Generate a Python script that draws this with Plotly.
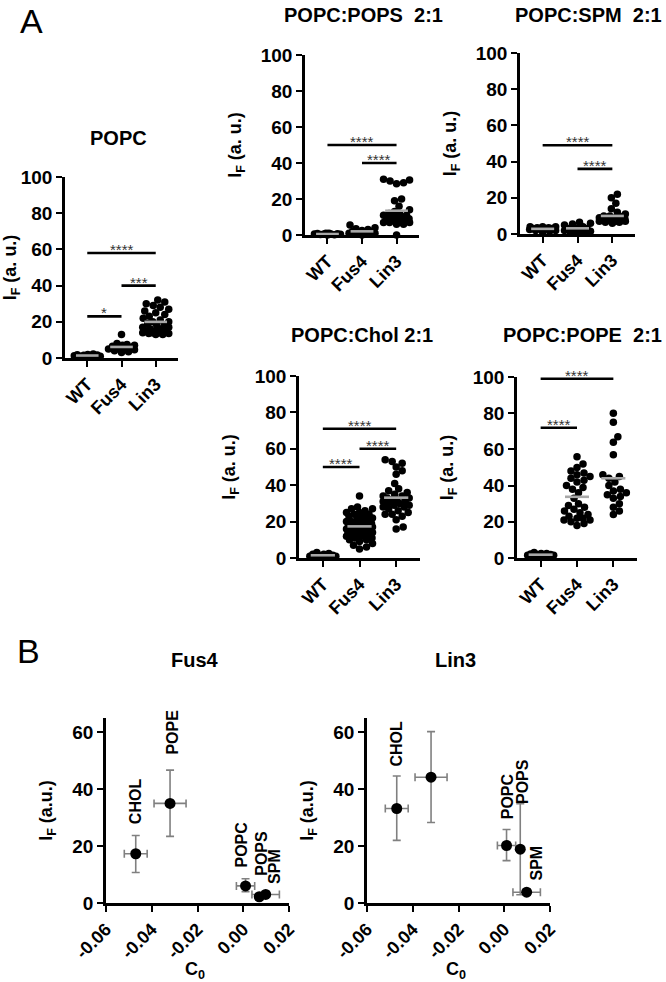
import plotly.graph_objects as go

W, H = 666, 982
FONT = "Liberation Sans, Arial, sans-serif"

groups = ["WT", "Fus4", "Lin3"]

# ---------------- Panel A data (IF, a.u.) ----------------
popc_wt = [0.5, 0.8, 1.0, 1.2, 1.5, 1.6, 1.8, 2.0, 2.2, 1.0, 1.4]
popc_fus4 = [13, 8, 7.5, 7, 7, 6.5, 6, 5.5, 5, 5, 4.5, 4, 3.5, 3]
popc_lin3 = [32, 31, 30, 28, 27, 26, 25, 24, 23, 22, 21, 20, 20, 19, 18, 18, 17, 17,
             16, 16, 15, 15, 15, 14, 14, 14, 13.5, 13.5, 13, 13, 29]
popc_sig = [("WT", "Fus4", 23, "*"), ("Fus4", "Lin3", 40, "***"), ("WT", "Lin3", 58, "****")]

pops_wt = [0, 0.2, 0.5, 0.5, 0.8, 1, 1, 0.3, 0.6, 0.4, 0.7]
pops_fus4 = [5.5, 4, 3.5, 3, 2.5, 2, 2, 1.5, 1.5, 1, 1, 0.5, 0.5, 0]
pops_lin3 = [31, 30.5, 30, 29, 28.5, 20, 19, 16, 14, 13, 12, 12, 11, 11, 10, 10, 10,
             9, 9, 9, 8, 8, 8, 7, 7, 7, 6, 6, 0]
pops_sig = [("Fus4", "Lin3", 40, "****"), ("WT", "Lin3", 50, "****")]

spm_wt = [4, 4, 3.5, 3.5, 3, 3, 3, 2.5, 2, 2, 1.5, 1, 4, 3]
spm_fus4 = [6.5, 6, 5.5, 5, 4, 3.5, 3, 3, 2.5, 2, 2, 1.5, 1, 1, 0.5]
spm_lin3 = [22, 20, 17, 14, 12, 11, 10, 10, 9.5, 9, 9, 8.5, 8.5, 8, 8, 8, 7.5, 7.5,
            7, 7, 7, 6.5, 6.5, 6]
spm_sig = [("Fus4", "Lin3", 36, "****"), ("WT", "Lin3", 49, "****")]

chol_wt = [0.5, 1, 1, 1.5, 1.5, 2, 2, 2.5, 3, 1, 0.8, 1.2]
chol_fus4 = [34, 28, 27, 27, 26, 25, 25, 24, 24, 23, 23, 22, 22, 21, 21, 20, 20, 20,
             19, 19, 19, 18, 18, 18, 17, 17, 17, 16, 16, 16, 15, 15, 15, 14, 14, 14,
             13, 13, 13, 12, 12, 11, 11, 10, 10, 9, 8, 7, 6, 5]
chol_lin3 = [54, 53, 52, 50, 48, 46, 41, 38, 37, 36, 35, 34, 34, 33, 33, 32, 32, 31,
             31, 30, 30, 29, 29, 28, 28, 27, 26, 25, 24, 24, 23, 21, 17, 16]
chol_sig = [("WT", "Fus4", 50, "****"), ("Fus4", "Lin3", 60, "****"), ("WT", "Lin3", 71, "****")]

pope_wt = [1, 1.5, 2, 2, 2.5, 3, 1.2, 1.8, 2.2, 0.8, 1.5, 2.5]
pope_fus4 = [56, 52, 50, 48, 47, 46, 45, 44, 43, 42, 40, 39, 38, 36, 33, 30, 29, 28,
             27, 26, 25, 24, 23, 22, 22, 21, 21, 20, 19, 18]
pope_lin3 = [80, 75, 67, 64, 57, 46, 45, 44, 42, 40, 38, 37, 36, 35, 34, 33, 30, 28, 26, 24]
pope_sig = [("WT", "Fus4", 72, "****"), ("WT", "Lin3", 99, "****")]

panel_titles = ["POPC", "POPC:POPS\u00a0 2:1", "POPC:SPM\u00a0 2:1", "POPC:Chol 2:1", "POPC:POPE\u00a0 2:1"]
panel_data = [
    [popc_wt, popc_fus4, popc_lin3],
    [pops_wt, pops_fus4, pops_lin3],
    [spm_wt, spm_fus4, spm_lin3],
    [chol_wt, chol_fus4, chol_lin3],
    [pope_wt, pope_fus4, pope_lin3],
]
panel_sig = [popc_sig, pops_sig, spm_sig, chol_sig, pope_sig]

# ---------------- Panel B data ----------------
lipids = ["CHOL", "POPE", "POPC", "POPS", "SPM"]
c0 = [-0.047, -0.032, 0.001, 0.007, 0.0098]
c0_err = [0.005, 0.007, 0.004, 0.0, 0.006]
fus4_if = [17.3, 35.0, 6.0, 2.2, 3.0]
fus4_err_up = [6.4, 11.7, 2.5, 1.0, 1.0]
fus4_err_dn = [6.6, 11.6, 2.0, 1.0, 1.0]
lin3_if = [33.2, 44.2, 20.2, 18.9, 3.8]
lin3_err_up = [11.4, 16.0, 5.6, 16.0, 1.0]
lin3_err_dn = [11.2, 15.9, 5.3, 16.0, 1.0]
c0_ticks = [-0.06, -0.04, -0.02, 0.00, 0.02]
c0_ticktext = ["-0.06", "-0.04", "-0.02", "0.00", "0.02"]

# ---------------- layout geometry (pixels) ----------------
A_boxes = [  # x0, x1, y0, y1
    (65, 178, 177, 358),
    (305, 419, 55, 235),
    (520, 635, 53, 234),
    (299, 420, 376, 558),
    (517, 637, 377, 558),
]
# (x, y, anchor)
A_title_pos = [(118, 138, "center"), (363, 15, "center"), (664, 15, "right"),
               (362, 335, "center"), (664, 335, "right")]
B_boxes = [(106, 289, 718, 903), (367, 550, 718, 903)]
B_title_pos = [(195, 660), (455, 660)]
B_xtitle_pos = [(195, 970), (456, 970)]
# label anchors in data units (x, y) for vertical lipid labels
B_label_pos = [
    [(-0.047, 35.7), (-0.031, 60), (-0.0006, 20.5), (0.0082, 17.3), (0.0139, 12.7)],
    [(-0.0469, 56), (-0.0316, 70.8), (0.0012, 37.5), (0.0077, 42.8), (0.0143, 14.2)],
]

XR = [-0.65, 2.65]
MSIZE = 7.5


def xdom(x0, x1):
    return [x0 / W, x1 / W]


def ydom(y0, y1):
    return [1 - y1 / H, 1 - y0 / H]


def swarm(values, px_per_y, px_per_x, diam, cap_px):
    """deterministic beeswarm offsets (category units)"""
    order = sorted(range(len(values)), key=lambda i: values[i])
    placed = []
    offs = [0.0] * len(values)
    cands = [0.0]
    s = 0.5
    while s <= cap_px:
        cands += [s, -s]
        s += 0.5
    for i in order:
        yv = values[i] * px_per_y
        best = None
        best_d = -1
        for c in cands:
            md = 1e9
            for (px, py) in placed:
                d = ((px - c) ** 2 + (py - yv) ** 2) ** 0.5
                md = min(md, d)
            if md >= diam * 0.9:
                best = c
                break
            if md > best_d:
                best_d = md
                best = c
        placed.append((best, yv))
        offs[i] = best / px_per_x
    return offs


fig = go.Figure()
layout = dict(
    width=W, height=H, margin=dict(l=0, r=0, t=0, b=0),
    paper_bgcolor="white", plot_bgcolor="white", showlegend=False,
    font=dict(family=FONT, color="black"),
)
annotations = []
shapes = []

TICKF = dict(family=FONT, size=19, color="black", weight="bold")
AXTF = dict(family=FONT, size=18, color="black", weight="bold")
TITF = dict(family=FONT, size=20, color="black", weight="bold")

axis_style = dict(
    showline=True, linecolor="black", linewidth=2.6, ticks="outside", ticklen=6,
    tickwidth=2.4, tickcolor="black", showgrid=False, zeroline=False,
    tickfont=TICKF, automargin=False,
)

gi = {g: i for i, g in enumerate(groups)}

for k, (box, data, sig, title, tpos) in enumerate(
        zip(A_boxes, panel_data, panel_sig, panel_titles, A_title_pos)):
    n = k + 1
    xa = "x" if n == 1 else f"x{n}"
    ya = "y" if n == 1 else f"y{n}"
    xkey = "xaxis" if n == 1 else f"xaxis{n}"
    ykey = "yaxis" if n == 1 else f"yaxis{n}"
    x0, x1, y0, y1 = box
    ppy = (y1 - y0) / 100.0
    ppx = (x1 - x0) / (XR[1] - XR[0])
    for g, vals in enumerate(data):
        offs = swarm(vals, ppy, ppx, MSIZE, 13)
        fig.add_trace(go.Scatter(
            x=[g + o for o in offs], y=vals, mode="markers", xaxis=xa, yaxis=ya,
            marker=dict(color="black", size=MSIZE, line=dict(width=0)),
            cliponaxis=False, hoverinfo="skip"))
        m = sum(vals) / len(vals)
        fig.add_trace(go.Scatter(
            x=[g - 0.33, g + 0.33], y=[m, m], mode="lines", xaxis=xa, yaxis=ya,
            line=dict(color="#a8a8a8", width=2.6), cliponaxis=False, hoverinfo="skip"))
    for (ga, gb, yv, txt) in sig:
        shapes.append(dict(type="line", xref=xa, yref=ya, x0=gi[ga], x1=gi[gb],
                           y0=yv, y1=yv, line=dict(color="black", width=2.6)))
        annotations.append(dict(xref=xa, yref=ya, x=(gi[ga] + gi[gb]) / 2, y=yv,
                                text=txt, showarrow=False, yanchor="bottom",
                                yshift=-7, font=dict(family=FONT, size=15, color="#333")))
    layout[xkey] = dict(axis_style, domain=xdom(x0, x1), range=XR, anchor=ya,
                        tickvals=[0, 1, 2], ticktext=groups, tickangle=-45,
                        tickfont=dict(TICKF, size=18))
    layout[ykey] = dict(axis_style, domain=ydom(y0, y1), range=[0, 100], anchor=xa,
                        dtick=20, tick0=0,
                        title=dict(text="I<sub>F</sub> (a. u.)", font=AXTF))
    annotations.append(dict(xref="paper", yref="paper", x=tpos[0] / W, y=1 - tpos[1] / H,
                            text=title, showarrow=False, xanchor=tpos[2], yanchor="middle",
                            font=TITF))

# ---------------- Panel B ----------------
B_sets = [("Fus4", fus4_if, fus4_err_up, fus4_err_dn), ("Lin3", lin3_if, lin3_err_up, lin3_err_dn)]
for j, ((name, ifv, eu, ed), box, tpos, xtpos, lpos) in enumerate(
        zip(B_sets, B_boxes, B_title_pos, B_xtitle_pos, B_label_pos)):
    n = 6 + j
    xa, ya = f"x{n}", f"y{n}"
    x0, x1, y0, y1 = box
    fig.add_trace(go.Scatter(
        x=c0, y=ifv, mode="markers", xaxis=xa, yaxis=ya, cliponaxis=False,
        marker=dict(color="black", size=11),
        error_y=dict(type="data", array=eu, arrayminus=ed, color="#808080",
                     thickness=1.6, width=4),
        error_x=dict(type="data", array=c0_err, color="#808080", thickness=1.6, width=4),
        hoverinfo="skip"))
    for lab, (lx, ly) in zip(lipids, lpos):
        annotations.append(dict(xref=xa, yref=ya, x=lx, y=ly, text=lab, textangle=-90,
                                showarrow=False, xanchor="center", yanchor="middle",
                                font=dict(family=FONT, size=16, color="black", weight="bold")))
    layout[f"xaxis{n}"] = dict(axis_style, domain=xdom(x0, x1), range=[-0.06, 0.02],
                               anchor=ya, tickvals=c0_ticks, ticktext=c0_ticktext,
                               tickangle=-45, tickfont=dict(TICKF, size=18))
    layout[f"yaxis{n}"] = dict(axis_style, domain=ydom(y0, y1), range=[0, 65], anchor=xa,
                               dtick=20, tick0=0,
                               title=dict(text="I<sub>F</sub> (a.u.)", font=AXTF))
    annotations.append(dict(xref="paper", yref="paper", x=tpos[0] / W, y=1 - tpos[1] / H,
                            text=name, showarrow=False, xanchor="center", yanchor="middle",
                            font=TITF))
    annotations.append(dict(xref="paper", yref="paper", x=xtpos[0] / W, y=1 - xtpos[1] / H,
                            text="C<sub>0</sub>", showarrow=False, xanchor="center",
                            yanchor="middle", font=AXTF))

# panel letters (x center, top y)
for letter, (lx, ly) in [("A", (31, 0)), ("B", (28, 630))]:
    annotations.append(dict(xref="paper", yref="paper", x=lx / W, y=1 - ly / H, text=letter,
                            showarrow=False, xanchor="center", yanchor="top",
                            font=dict(family=FONT, size=34, color="black")))

layout["annotations"] = annotations
layout["shapes"] = shapes
fig.update_layout(**layout)
fig.write_html(
    "out.html",
    config={"displayModeBar": False},
    post_script="document.body.style.margin='0';document.body.style.padding='0';"
                "document.body.style.overflow='hidden';",
)
